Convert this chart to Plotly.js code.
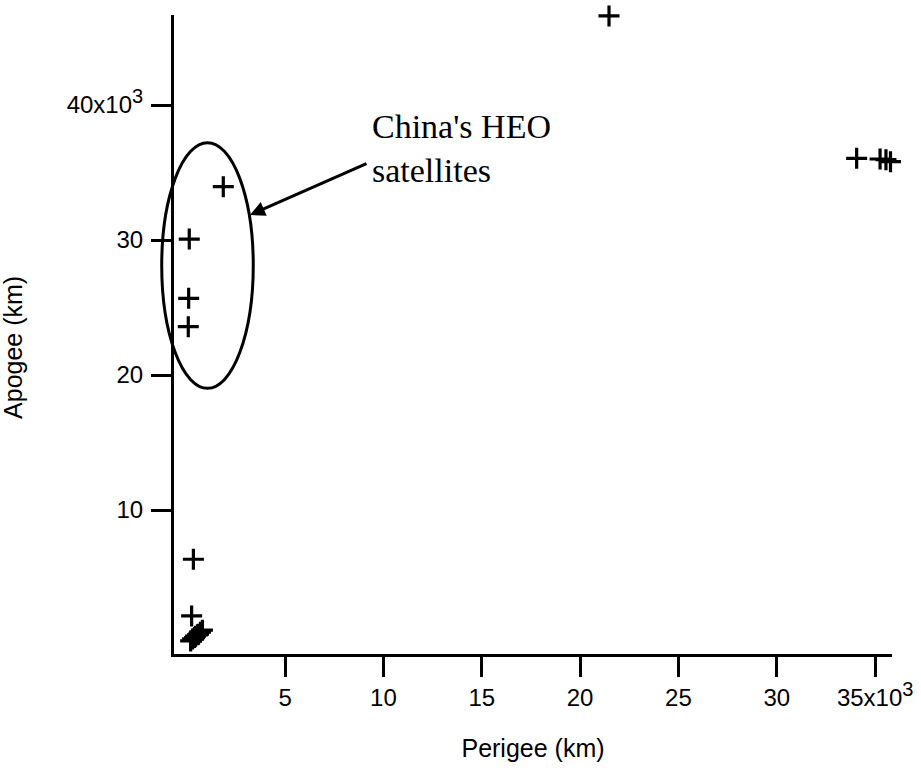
<!DOCTYPE html>
<html>
<head>
<meta charset="utf-8">
<script src="https://cdn.plot.ly/plotly-3.0.1.min.js"></script>
<style>html,body{margin:0;padding:0;background:#fff;}#chart{width:921px;height:772px;}</style>
</head>
<body>
<div id="chart"></div>
<script>
// Perigee / apogee in km
const perigeeKm = [21470, 34060, 35250, 35550, 35780, 1860, 130, 100, 80, 340, 250, 200, 300, 400, 450, 550, 600, 700, 800];
const apogeeKm  = [46600, 36050, 36000, 35950, 35800, 33950, 30070, 25680, 23580, 6350, 2150, 300, 450, 550, 650, 750, 800, 950, 1100];

const xTickVals = [5000, 10000, 15000, 20000, 25000, 30000, 35000];
const xTickText = ["5", "10", "15", "20", "25", "30", "35x10<sup><span style=\"font-size:20px\">3</span></sup>"];
const yTickVals = [10000, 20000, 30000, 40000];
const yTickText = ["10", "20", "30", "40x10<sup><span style=\"font-size:20px\">3</span></sup>"];

const xTitle = "Perigee (km)";
const yTitle = "Apogee (km)";
const noteText = "China's HEO<br>satellites";

const sans = "Liberation Sans, Arial, sans-serif";
const serif = "Liberation Serif, Times New Roman, serif";

const trace = {
  type: "scatter",
  mode: "markers",
  x: perigeeKm,
  y: apogeeKm,
  cliponaxis: false,
  marker: {symbol: "cross-thin-open", size: 15, color: "#000", line: {width: 3.2, color: "#000"}},
  hoverinfo: "x+y"
};

const layout = {
  width: 921, height: 772,
  margin: {l: 174, r: 29, t: 15, b: 118},
  paper_bgcolor: "#fff", plot_bgcolor: "#fff",
  showlegend: false,
  font: {family: sans, color: "#000"},
  xaxis: {
    range: [-646, 35857],
    showgrid: false, zeroline: false,
    showline: true, linewidth: 3, linecolor: "#000",
    ticks: "outside", ticklen: 20, tickwidth: 3, tickcolor: "#000",
    tickmode: "array", tickvals: xTickVals, ticktext: xTickText,
    tickfont: {family: sans, size: 24, color: "#000"},
    title: {text: xTitle, font: {family: sans, size: 25, color: "#000"}, standoff: 30}
  },
  yaxis: {
    range: [-667, 46667],
    showgrid: false, zeroline: false,
    showline: true, linewidth: 3, linecolor: "#000",
    ticks: "outside", ticklen: 20, tickwidth: 3, tickcolor: "#000",
    ticklabelstandoff: 3,
    tickmode: "array", tickvals: yTickVals, ticktext: yTickText,
    tickfont: {family: sans, size: 24, color: "#000"}
  },
  shapes: [
    {type: "circle", xref: "paper", yref: "paper",
     x0: -0.0171, x1: 0.1104, y0: 0.4158, y1: 0.8002,
     line: {color: "#000", width: 3}}
  ],
  annotations: [
    {text: yTitle, xref: "paper", yref: "paper", x: -0.2465, y: 0.479,
     textangle: -90, showarrow: false, font: {family: sans, size: 25, color: "#000"}},
    {text: noteText, xref: "paper", yref: "paper", x: 0.2730, y: 0.8576,
     xanchor: "left", yanchor: "top",
     showarrow: false, align: "left", font: {family: serif, size: 34, color: "#000"}},
    {text: "", xref: "paper", yref: "paper", x: 0.1058, y: 0.687,
     showarrow: true, axref: "pixel", ayref: "pixel", ax: 118, ay: -52,
     arrowhead: 2, arrowsize: 1, arrowwidth: 3, arrowcolor: "#000", standoff: 0}
  ]
};

Plotly.newPlot("chart", [trace], layout, {displayModeBar: false, staticPlot: true});
</script>
</body>
</html>
